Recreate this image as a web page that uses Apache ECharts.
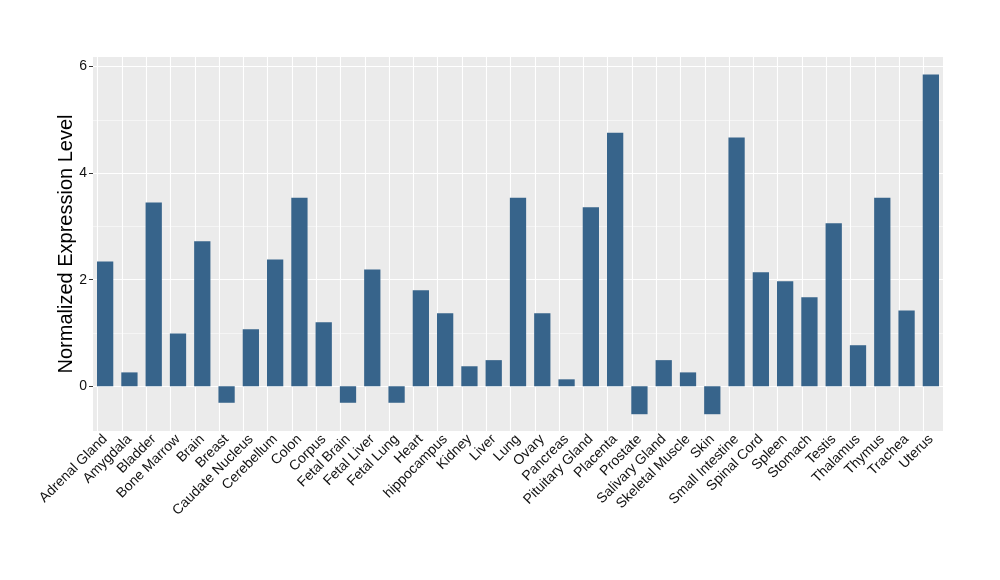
<!DOCTYPE html>
<html>
<head>
<meta charset="utf-8">
<script src="https://cdn.jsdelivr.net/npm/echarts@6/dist/echarts.min.js"></script>
<style>
  html, body { margin: 0; padding: 0; background: #fff; }
  #chart { width: 1000px; height: 580px; }
</style>
</head>
<body>
<div id="chart"></div>
<script>
// 组织名称
const tissues = [
  "Adrenal Gland", "Amygdala", "Bladder", "Bone Marrow", "Brain", "Breast",
  "Caudate Nucleus", "Cerebellum", "Colon", "Corpus", "Fetal Brain", "Fetal Liver",
  "Fetal Lung", "Heart", "hippocampus", "Kidney", "Liver", "Lung", "Ovary",
  "Pancreas", "Pituitary Gland", "Placenta", "Prostate", "Salivary Gland",
  "Skeletal Muscle", "Skin", "Small Intestine", "Spinal Cord", "Spleen",
  "Stomach", "Testis", "Thalamus", "Thymus", "Trachea", "Uterus"
];
// 表达水平
const expression = [
  2.34, 0.26, 3.45, 0.99, 2.72, -0.31,
  1.07, 2.38, 3.54, 1.2, -0.31, 2.19,
  -0.31, 1.8, 1.37, 0.375, 0.49, 3.54, 1.37,
  0.13, 3.36, 4.76, -0.525, 0.49,
  0.26, -0.525, 4.67, 2.14, 1.97,
  1.67, 3.06, 0.77, 3.54, 1.42, 5.85
];
// y轴刻度
const yTicks = [0, 2, 4, 6];
const yMinorTicks = [1, 3, 5];
const yRange = [-0.84, 6.18];

// 网格线（放在柱子下面）
const gridLines = [
  ...tissues.map((t) => ({ xAxis: t, lineStyle: { width: 1.1 } })),
  ...yTicks.map((v) => ({ yAxis: v, lineStyle: { width: 1.1 } })),
  ...yMinorTicks.map((v) => ({ yAxis: v, lineStyle: { width: 0.5 } })),
];

const chart = echarts.init(document.getElementById("chart"));
chart.setOption({
  animation: false,
  textStyle: { fontFamily: "Liberation Sans, Arial, sans-serif" },
  grid: {
    left: 93, right: 57, top: 57, bottom: 149,
    show: true, backgroundColor: "#EBEBEB", borderWidth: 0
  },
  xAxis: {
    type: "category",
    data: tissues,
    axisLine: { show: false },
    axisTick: { alignWithLabel: true, length: 4, lineStyle: { color: "#333" } },
    axisLabel: { rotate: 45, color: "#111", fontSize: 14, margin: 6, interval: 0 },
    splitLine: { show: false }
  },
  yAxis: {
    type: "value",
    min: yRange[0],
    max: yRange[1],
    name: "Normalized Expression Level",
    nameLocation: "middle",
    nameGap: 17,
    nameMoveOverlap: false,
    nameTextStyle: { fontSize: 20, color: "#000" },
    axisLine: { show: false },
    axisTick: { show: true, length: 4, customValues: yTicks, lineStyle: { color: "#333" } },
    axisLabel: { customValues: yTicks, color: "#111", fontSize: 14, margin: 6 },
    splitLine: { show: false }
  },
  series: [
    {
      type: "bar",
      data: [],
      z: 1,
      markLine: {
        z: 1,
        silent: true,
        symbol: "none",
        label: { show: false },
        lineStyle: { color: "#fff", type: "solid" },
        data: gridLines
      }
    },
    {
      type: "bar",
      data: expression,
      z: 3,
      barWidth: "67%",
      barGap: "-100%",
      itemStyle: { color: "#37648B" }
    }
  ]
});
</script>
</body>
</html>
